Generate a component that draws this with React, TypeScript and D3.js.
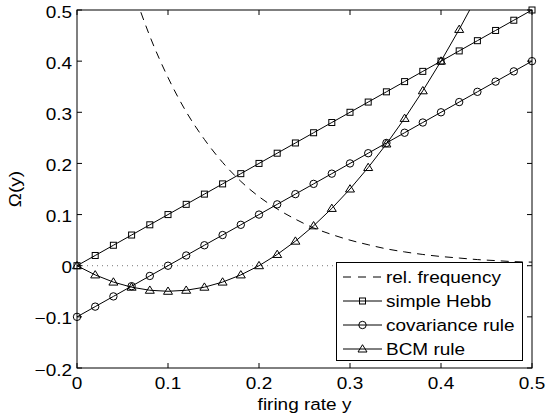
import React, { useEffect, useRef } from "react";
import * as d3 from "d3";

const firingRate = [0, 0.02, 0.04, 0.06, 0.08, 0.1, 0.12, 0.14, 0.16, 0.18, 0.2, 0.22, 0.24,
  0.26, 0.28, 0.3, 0.32, 0.34, 0.36, 0.38, 0.4, 0.42, 0.44, 0.46, 0.48, 0.5];
const relFrequency = [1, 0.819, 0.67, 0.549, 0.449, 0.368, 0.301, 0.247, 0.202, 0.165, 0.135,
  0.111, 0.091, 0.074, 0.061, 0.05, 0.041, 0.033, 0.027, 0.022, 0.018, 0.015, 0.012, 0.01, 0.008, 0.007];
const simpleHebb = [0, 0.02, 0.04, 0.06, 0.08, 0.1, 0.12, 0.14, 0.16, 0.18, 0.2, 0.22, 0.24,
  0.26, 0.28, 0.3, 0.32, 0.34, 0.36, 0.38, 0.4, 0.42, 0.44, 0.46, 0.48, 0.5];
const covarianceRule = [-0.1, -0.08, -0.06, -0.04, -0.02, 0, 0.02, 0.04, 0.06, 0.08, 0.1, 0.12,
  0.14, 0.16, 0.18, 0.2, 0.22, 0.24, 0.26, 0.28, 0.3, 0.32, 0.34, 0.36, 0.38, 0.4];
const bcmRule = [0, -0.018, -0.032, -0.042, -0.048, -0.05, -0.048, -0.042, -0.032, -0.018, 0,
  0.022, 0.048, 0.078, 0.112, 0.15, 0.192, 0.238, 0.288, 0.342, 0.4, 0.462, 0.528, 0.598, 0.672, 0.75];

const xTicks = [0, 0.1, 0.2, 0.3, 0.4, 0.5];
const yTicks = [-0.2, -0.1, 0, 0.1, 0.2, 0.3, 0.4, 0.5];
const legendLabels = ["rel. frequency", "simple Hebb", "covariance rule", "BCM rule"];

const W = 546, H = 417;
const FONT = "'Liberation Sans', Arial, sans-serif";
const FS = 16.5;
const SX = 1.15; // figure text looks stretched horizontally

function marker(g: any, kind: string, x: number, y: number) {
  if (kind === "square") {
    g.append("rect").attr("x", x - 3).attr("y", y - 3).attr("width", 6).attr("height", 6)
      .attr("fill", "none").attr("stroke", "#000").attr("stroke-width", 1);
  } else if (kind === "circle") {
    g.append("circle").attr("cx", x).attr("cy", y).attr("r", 3.7)
      .attr("fill", "none").attr("stroke", "#000").attr("stroke-width", 1);
  } else if (kind === "triangle") {
    g.append("polygon")
      .attr("points", `${x},${y - 4.3} ${x + 4.5},${y + 3} ${x - 4.5},${y + 3}`)
      .attr("fill", "none").attr("stroke", "#000").attr("stroke-width", 1);
  }
}

function label(g: any, x: number, y: number, txt: string, anchor: string, rotate = 0) {
  g.append("g")
    .attr("transform", `translate(${x},${y}) rotate(${rotate}) scale(${SX},1)`)
    .append("text")
    .attr("text-anchor", anchor)
    .attr("font-family", FONT)
    .attr("font-size", FS)
    .attr("fill", "#000")
    .text(txt);
}

export default function App() {
  const ref = useRef<SVGSVGElement>(null);

  useEffect(() => {
    const svg = d3.select(ref.current);
    svg.selectAll("*").remove();

    const left = 77, right = 532, top = 10, bottom = 368;
    const x = d3.scaleLinear().domain([0, 0.5]).range([left, right]);
    const y = d3.scaleLinear().domain([-0.2, 0.5]).range([bottom, top]);

    svg.append("defs").append("clipPath").attr("id", "plotclip")
      .append("rect").attr("x", left).attr("y", top)
      .attr("width", right - left).attr("height", bottom - top);

    const plot = svg.append("g");
    const lines = plot.append("g").attr("clip-path", "url(#plotclip)");

    // dotted zero line
    lines.append("line")
      .attr("x1", x(0)).attr("x2", x(0.5)).attr("y1", y(0)).attr("y2", y(0))
      .attr("stroke", "#777").attr("stroke-width", 1).attr("stroke-dasharray", "1,4");

    const series = [
      { values: relFrequency, kind: "none", dash: "8,6" },
      { values: simpleHebb, kind: "square", dash: null },
      { values: covarianceRule, kind: "circle", dash: null },
      { values: bcmRule, kind: "triangle", dash: null },
    ];

    series.forEach(s => {
      const pts = firingRate.map((r, i) => [r, s.values[i]] as [number, number]);
      const line = d3.line<[number, number]>()
        .x(d => x(d[0])).y(d => y(d[1]))
        .curve(s.dash ? d3.curveMonotoneX : d3.curveLinear);
      lines.append("path").attr("d", line(pts)!)
        .attr("fill", "none").attr("stroke", "#000").attr("stroke-width", 1)
        .attr("stroke-dasharray", s.dash);
      if (s.kind !== "none") {
        pts.filter(d => d[1] <= 0.5 && d[1] >= -0.2)
          .forEach(d => marker(plot, s.kind, x(d[0]), y(d[1])));
      }
    });

    // axes box and inward ticks on all sides
    plot.append("rect").attr("x", left).attr("y", top)
      .attr("width", right - left).attr("height", bottom - top)
      .attr("fill", "none").attr("stroke", "#000").attr("stroke-width", 1);

    const tl = 5;
    xTicks.forEach(t => {
      plot.append("line").attr("x1", x(t)).attr("x2", x(t)).attr("y1", bottom).attr("y2", bottom - tl)
        .attr("stroke", "#000");
      plot.append("line").attr("x1", x(t)).attr("x2", x(t)).attr("y1", top).attr("y2", top + tl)
        .attr("stroke", "#000");
      label(plot, x(t), bottom + 21, d3.format("~g")(t), "middle");
    });
    yTicks.forEach(t => {
      plot.append("line").attr("x1", left).attr("x2", left + tl).attr("y1", y(t)).attr("y2", y(t))
        .attr("stroke", "#000");
      plot.append("line").attr("x1", right).attr("x2", right - tl).attr("y1", y(t)).attr("y2", y(t))
        .attr("stroke", "#000");
      label(plot, left - 5, y(t) + 7.5, d3.format("~g")(t), "end");
    });

    label(plot, (left + right) / 2, 410, "firing rate y", "middle");
    label(plot, 21, (top + bottom) / 2, "Ω(y)", "middle", -90);

    // legend
    const lg = svg.append("g");
    lg.append("rect").attr("x", 336.5).attr("y", 262.5).attr("width", 186).attr("height", 98)
      .attr("fill", "#fff").attr("stroke", "#000").attr("stroke-width", 1);
    legendLabels.forEach((name, i) => {
      const cy = 277 + i * 24;
      lg.append("line").attr("x1", 343).attr("x2", 382).attr("y1", cy).attr("y2", cy)
        .attr("stroke", "#000").attr("stroke-width", 1)
        .attr("stroke-dasharray", series[i].dash ? "8,7" : null);
      if (series[i].kind !== "none") marker(lg, series[i].kind, 362.5, cy);
      label(lg, 386, cy + 6, name, "start");
    });
  }, []);

  return (
    <svg ref={ref} width={W} height={H}
      style={{ position: "absolute", left: 0, top: 0, background: "#fff" }} />
  );
}
